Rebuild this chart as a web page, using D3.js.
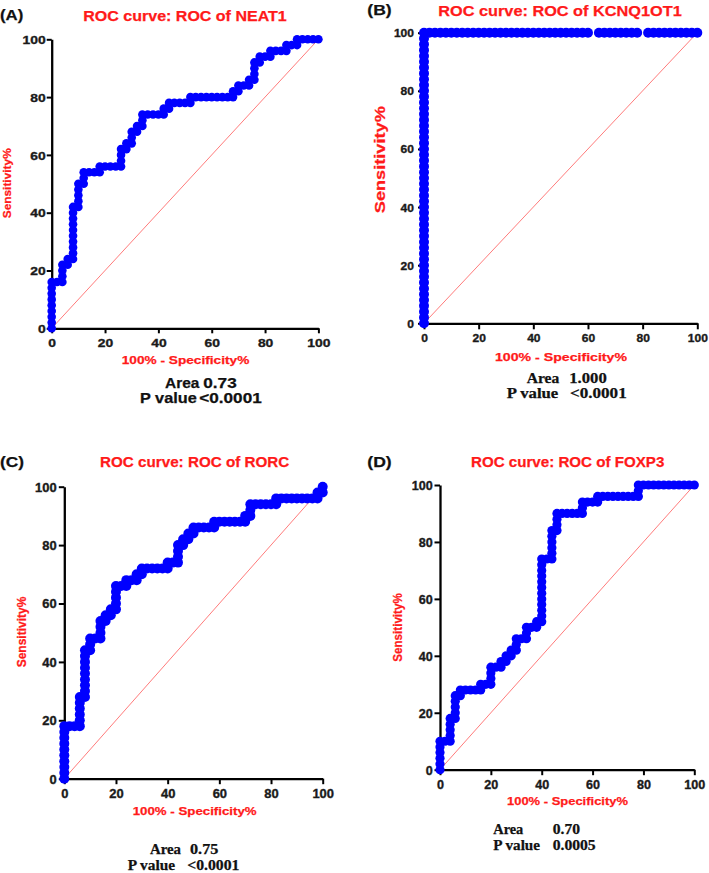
<!DOCTYPE html>
<html>
<head>
<meta charset="utf-8">
<script src="https://cdn.jsdelivr.net/npm/d3@7"></script>
<style>
body { margin: 0; background: #fff; }
svg { display: block; }
</style>
</head>
<body>
<script>
var width = 709,
    height = 873;

// ---- data ----
var tickValues = [0, 20, 40, 60, 80, 100];
var panelLetters = ["(A)", "(B)", "(C)", "(D)"];
var panelTitles = ["ROC curve: ROC of NEAT1", "ROC curve: ROC of KCNQ1OT1",
                   "ROC curve: ROC of RORC", "ROC curve: ROC of FOXP3"];
var areaValues = ["0.73", "1.000", "0.75", "0.70"];
var pValues = ["<0.0001", "<0.0001", "<0.0001", "0.0005"];
var xAxisTitle = "100% - Specificity%";
var yAxisTitle = "Sensitivity%";

// [100% - specificity, sensitivity]
var neat1Points = [[0,0],[0,2],[0,4],[0,6],[0,8],[0,10],[0,12],[0,14],[0,16],[2,16],[4,16],[4,18],[4,20],[4,22],
  [6,22],[6,24],[8,24],[8,26],[8,28],[8,30],[8,32],[8,34],[8,36],[8,38],[8,40],[8,42],[10,42],[10,44],[10,46],
  [10,48],[10,50],[12,50],[12,52],[12,54],[14,54],[16,54],[18,54],[18,56],[20,56],[22,56],[24,56],[26,56],[26,58],
  [26,60],[26,62],[28,62],[28,64],[30,64],[30,66],[30,68],[32,68],[32,70],[34,70],[34,72],[34,74],[36,74],[38,74],
  [40,74],[42,74],[42,76],[44,76],[44,78],[46,78],[48,78],[50,78],[52,78],[52,80],[54,80],[56,80],[58,80],[60,80],
  [62,80],[64,80],[66,80],[68,80],[68,82],[70,82],[70,84],[72,84],[74,84],[74,86],[76,86],[76,88],[76,90],[76,92],
  [78,92],[78,94],[80,94],[82,94],[82,96],[84,96],[86,96],[88,96],[88,98],[90,98],[92,98],[92,100],[94,100],
  [96,100],[98,100],[100,100]];

var kcnq1ot1Points = [[0,0],[0,2],[0,4],[0,6],[0,8],[0,10],[0,12],[0,14],[0,16],[0,18],[0,20],[0,22],[0,24],
  [0,26],[0,28],[0,30],[0,32],[0,34],[0,36],[0,38],[0,40],[0,42],[0,44],[0,46],[0,48],[0,50],[0,52],[0,54],[0,56],
  [0,58],[0,60],[0,62],[0,64],[0,66],[0,68],[0,70],[0,72],[0,74],[0,76],[0,78],[0,80],[0,82],[0,84],[0,86],[0,88],
  [0,90],[0,92],[0,94],[0,96],[0,98],[0,100],[2,100],[4,100],[6,100],[8,100],[10,100],[12,100],[14,100],[16,100],
  [18,100],[20,100],[22,100],[24,100],[26,100],[28,100],[30,100],[32,100],[34,100],[36,100],[38,100],[40,100],
  [42,100],[44,100],[46,100],[48,100],[50,100],[52,100],[54,100],[56,100],[58,100],[60,100],[64,100],[66,100],
  [68,100],[70,100],[72,100],[74,100],[76,100],[78,100],[82,100],[84,100],[86,100],[88,100],[90,100],[92,100],
  [94,100],[96,100],[98,100],[100,100]];

var rorcPoints = [[0,0],[0,2],[0,4],[0,6],[0,8],[0,10],[0,12],[0,14],[0,16],[0,18],[2,18],[4,18],[6,18],[6,20],
  [6,22],[6,24],[6,26],[6,28],[8,28],[8,30],[8,32],[8,34],[8,36],[8,38],[8,40],[8,42],[8,44],[10,44],[10,46],
  [10,48],[12,48],[14,48],[14,50],[14,52],[14,54],[16,54],[16,56],[18,56],[18,58],[20,58],[20,60],[20,62],[20,64],
  [20,66],[22,66],[24,66],[24,68],[26,68],[28,68],[28,70],[30,70],[30,72],[32,72],[34,72],[36,72],[38,72],[40,72],
  [40,74],[42,74],[44,74],[44,76],[44,78],[44,80],[46,80],[46,82],[48,82],[48,84],[50,84],[50,86],[52,86],[54,86],
  [56,86],[58,86],[58,88],[60,88],[62,88],[64,88],[66,88],[68,88],[70,88],[70,90],[72,90],[72,92],[72,94],[74,94],
  [76,94],[78,94],[80,94],[82,94],[82,96],[84,96],[86,96],[88,96],[90,96],[92,96],[94,96],[96,96],[98,96],[98,98],
  [100,98],[100,100]];

var foxp3Points = [[0,0],[0,2],[0,4],[0,6],[0,8],[0,10],[2,10],[4,10],[4,12],[4,14],[4,16],[4,18],[6,18],[6,20],
  [6,22],[6,24],[6,26],[8,26],[8,28],[10,28],[12,28],[14,28],[16,28],[16,30],[18,30],[20,30],[20,32],[20,34],
  [20,36],[22,36],[24,36],[24,38],[26,38],[26,40],[28,40],[28,42],[30,42],[30,44],[30,46],[32,46],[34,46],[34,48],
  [34,50],[36,50],[38,50],[38,52],[40,52],[40,54],[40,56],[40,58],[40,60],[40,62],[40,64],[40,66],[40,68],[40,70],
  [40,72],[40,74],[42,74],[44,74],[44,76],[44,78],[44,80],[44,82],[44,84],[46,84],[46,86],[46,88],[46,90],[48,90],
  [50,90],[52,90],[54,90],[56,90],[56,92],[56,94],[58,94],[60,94],[62,94],[62,96],[64,96],[66,96],[68,96],[70,96],
  [72,96],[74,96],[76,96],[78,96],[78,98],[78,100],[80,100],[82,100],[84,100],[86,100],[88,100],[90,100],[92,100],
  [94,100],[96,100],[98,100],[100,100]];

var series = [neat1Points, kcnq1ot1Points, rorcPoints, foxp3Points];

// ---- layout of each panel (pixels) ----
var layout = [
  {x0: 51.7, x1: 318.4, yb: 328.3, yt: 39.3, r: 4.3, tickLen: 5, tickGap: 6, tickFs: 11.5, digitW: 7.7,
   letter: [0, 15.5, 23.3], title: [83.3, 16, 203.4, 14],
   yLab: [8.3, 183.3, 70, 11.5], xLab: [121.7, 361, 127.6, 11],
   serif: false, statFs: 14,
   stats: [[165, 34.3, 203.3, 33.4, 383.3], [140, 56.7, 199.3, 62.4, 397.8]]},
  {x0: 424, x1: 697.3, yb: 323.3, yt: 32.7, r: 5, tickLen: 6, tickGap: 10, tickFs: 11, digitW: 6.7,
   letter: [367.3, 11.3, 24.4], title: [438.3, 10.5, 243.4, 15],
   yLab: [381, 159.7, 107, 15], xLab: [495, 358, 132, 11],
   serif: true, statFs: 14,
   stats: [[526.7, 32.6, 569.3, 37.4, 378.3], [506.7, 51.6, 570, 56.7, 393.8]]},
  {x0: 64.3, x1: 322.7, yb: 778.7, yt: 486.7, r: 5, tickLen: 5.5, tickGap: 7.6, tickFs: 12, digitW: 7.2,
   letter: [0, 463.3, 24], title: [100, 462, 189.3, 15],
   yLab: [22.5, 632, 70.7, 12.5], xLab: [132.7, 811.7, 124, 11.5],
   serif: true, statFs: 14,
   stats: [[150, 31, 190, 28.3, 849.3], [127.7, 47.3, 187.3, 52, 865]]},
  {x0: 440, x1: 694.3, yb: 769.7, yt: 485, r: 4.6, tickLen: 5.5, tickGap: 7.3, tickFs: 12, digitW: 7,
   letter: [367.3, 462.8, 24.4], title: [471, 461.3, 193.3, 15],
   yLab: [399, 627.5, 68.4, 12.5], xLab: [507, 801.7, 121, 11.5],
   serif: true, statFs: 14,
   stats: [[493.3, 30, 552.7, 27.3, 829.3], [493.3, 46.7, 552.7, 43, 845.3]]}
];

var sans = "Arial, 'Liberation Sans', sans-serif",
    serif = "'Times New Roman', 'Liberation Serif', serif";

var svg = d3.select("body").append("svg")
    .attr("width", width)
    .attr("height", height);

// text placed by its left edge and visual centre, stretched to the measured width
function addText(g, str, x, yc, w, fs, family, color, lift) {
  return g.append("text")
    .attr("x", x)
    .attr("y", yc + lift * fs)
    .attr("textLength", w)
    .attr("lengthAdjust", "spacingAndGlyphs")
    .style("font-family", family)
    .style("font-weight", "bold")
    .style("font-size", fs + "px")
    .style("fill", color)
    .style("stroke", color)
    .style("stroke-width", 0.25)
    .text(str);
}

layout.forEach(function(L, i) {
  var g = svg.append("g");

  var x = d3.scaleLinear().domain([0, 100]).range([L.x0, L.x1]);
  var y = d3.scaleLinear().domain([0, 100]).range([L.yb, L.yt]);

  // panel letter and title
  addText(g, panelLetters[i], L.letter[0], L.letter[1], L.letter[2], 15.5, sans, "#111", 0.27);
  addText(g, panelTitles[i], L.title[0], L.title[1], L.title[2], L.title[3], sans, "#ff1a1a", 0.36);

  // axes
  var xAxis = g.append("g")
    .attr("transform", "translate(0," + L.yb + ")")
    .call(d3.axisBottom(x).tickValues(tickValues).tickSize(L.tickLen).tickSizeOuter(0));
  var yAxis = g.append("g")
    .attr("transform", "translate(" + L.x0 + ",0)")
    .call(d3.axisLeft(y).tickValues(tickValues).tickSize(L.tickLen).tickSizeOuter(0));

  [xAxis, yAxis].forEach(function(ax) {
    ax.select(".domain").attr("stroke", "#000").attr("stroke-width", 2.3);
    ax.selectAll(".tick line").attr("stroke", "#000").attr("stroke-width", 2);
    ax.selectAll(".tick text")
      .attr("fill", "#1a1a1a")
      .attr("stroke", "#1a1a1a")
      .attr("stroke-width", 0.35)
      .style("font-family", sans)
      .style("font-weight", "bold")
      .style("font-size", L.tickFs + "px")
      .attr("textLength", function(d) { return String(d).length * L.digitW; })
      .attr("lengthAdjust", "spacingAndGlyphs");
  });
  xAxis.selectAll(".tick text")
    .attr("dy", null)
    .attr("y", 15 + 0.36 * L.tickFs);
  yAxis.selectAll(".tick text")
    .attr("dy", null)
    .attr("x", -L.tickGap)
    .attr("y", 0.36 * L.tickFs);

  // axis titles
  g.append("text")
    .attr("transform", "translate(" + L.yLab[0] + "," + L.yLab[1] + ") rotate(-90)")
    .attr("y", 0.25 * L.yLab[3])
    .attr("text-anchor", "middle")
    .attr("textLength", L.yLab[2])
    .attr("lengthAdjust", "spacingAndGlyphs")
    .style("font-family", sans)
    .style("font-weight", "bold")
    .style("font-size", L.yLab[3] + "px")
    .style("fill", "#ff1a1a")
    .style("stroke", "#ff1a1a")
    .style("stroke-width", 0.25)
    .text(yAxisTitle);
  addText(g, xAxisTitle, L.xLab[0], L.xLab[1], L.xLab[2], L.xLab[3], sans, "#ff1a1a", 0.25);

  // reference diagonal
  g.append("line")
    .attr("x1", x(0)).attr("y1", y(0))
    .attr("x2", x(100)).attr("y2", y(100))
    .attr("stroke", "#ff3b3b")
    .attr("stroke-opacity", 0.85)
    .attr("stroke-width", 0.8);

  // ROC points
  g.append("g")
    .selectAll("circle")
    .data(series[i])
    .enter().append("circle")
    .attr("cx", function(d) { return x(d[0]); })
    .attr("cy", function(d) { return y(d[1]); })
    .attr("r", L.r)
    .attr("fill", "#0000ff");

  // area and p value
  var fam = L.serif ? serif : sans,
      lift = L.serif ? 0.33 : 0.36,
      words = [["Area", areaValues[i]], ["P value", pValues[i]]];
  L.stats.forEach(function(s, k) {
    addText(g, words[k][0], s[0], s[4], s[1], L.statFs, fam, "#111", lift);
    addText(g, words[k][1], s[2], s[4], s[3], L.statFs, fam, "#111", lift);
  });
});
</script>
</body>
</html>
